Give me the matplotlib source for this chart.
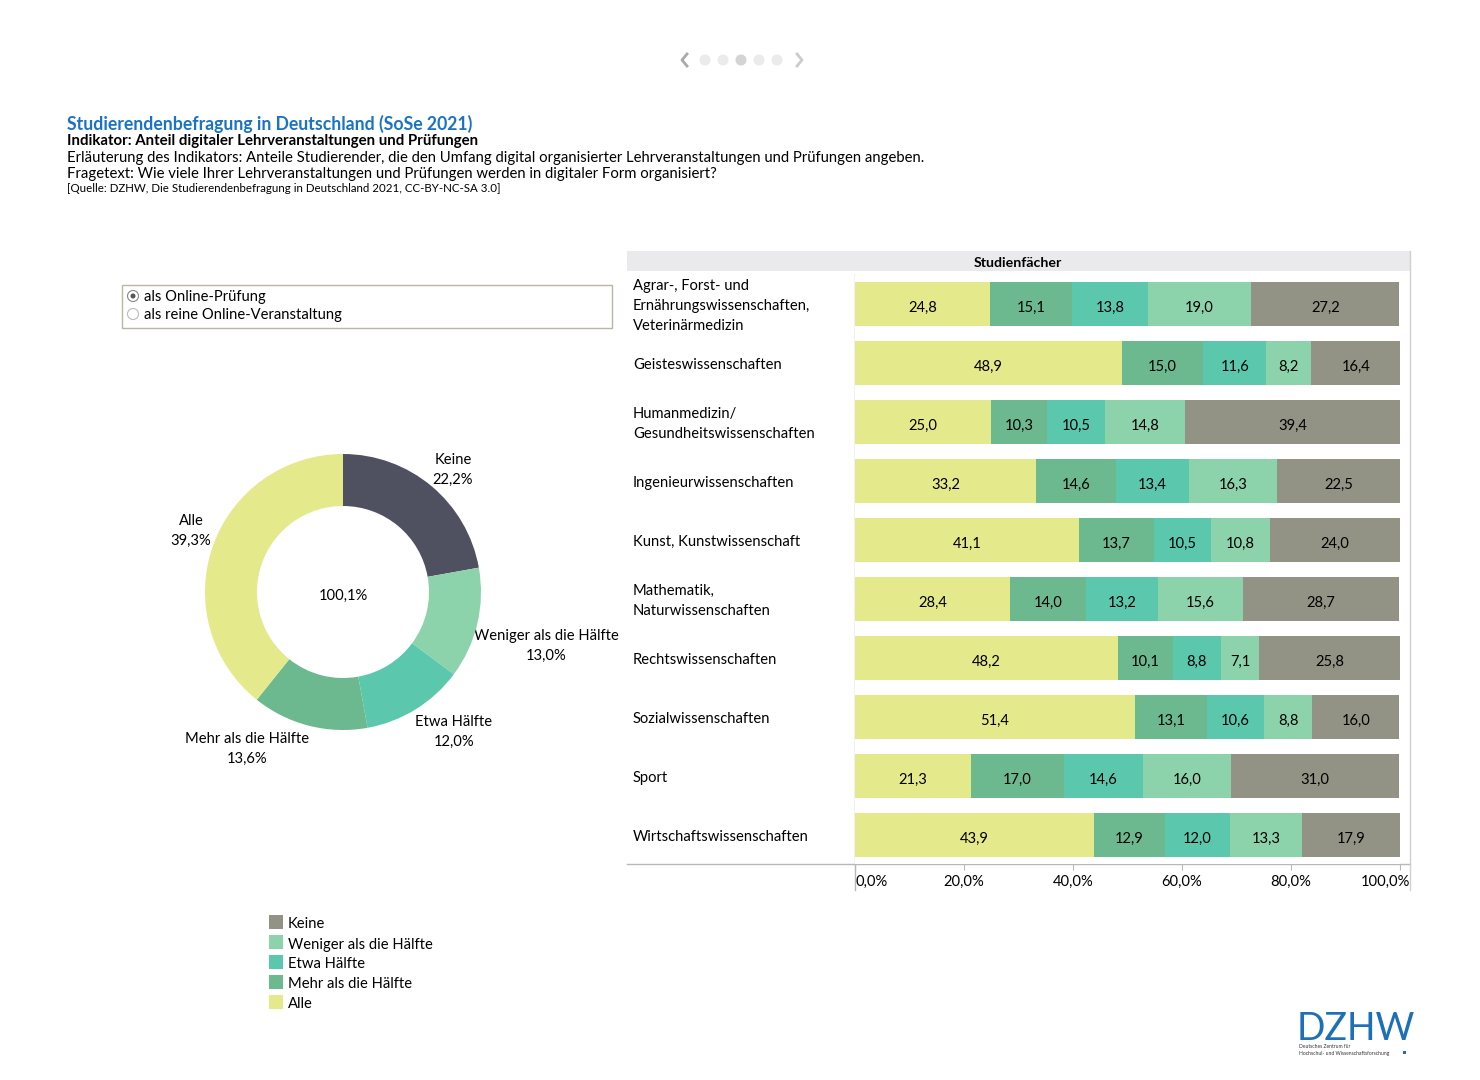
import numpy as np
import matplotlib
matplotlib.use("Agg")
import matplotlib.pyplot as plt
import matplotlib.transforms as mtransforms
from matplotlib.patches import Rectangle, Circle
from matplotlib.lines import Line2D

plt.rcParams['font.family'] = ['Lato', 'DejaVu Sans']

# ============================================================
# Data
# ============================================================
answers = ['Alle', 'Mehr als die Hälfte', 'Etwa Hälfte', 'Weniger als die Hälfte', 'Keine']
bar_colors = ['#e4e98b', '#6db98f', '#5bc8ae', '#8cd3ac', '#929285']

subjects = [
    'Agrar-, Forst- und\nErnährungswissenschaften,\nVeterinärmedizin',
    'Geisteswissenschaften',
    'Humanmedizin/\nGesundheitswissenschaften',
    'Ingenieurwissenschaften',
    'Kunst, Kunstwissenschaft',
    'Mathematik,\nNaturwissenschaften',
    'Rechtswissenschaften',
    'Sozialwissenschaften',
    'Sport',
    'Wirtschaftswissenschaften',
]
alle = [24.8, 48.9, 25.0, 33.2, 41.1, 28.4, 48.2, 51.4, 21.3, 43.9]
mehr = [15.1, 15.0, 10.3, 14.6, 13.7, 14.0, 10.1, 13.1, 17.0, 12.9]
etwa = [13.8, 11.6, 10.5, 13.4, 10.5, 13.2, 8.8, 10.6, 14.6, 12.0]
weniger = [19.0, 8.2, 14.8, 16.3, 10.8, 15.6, 7.1, 8.8, 16.0, 13.3]
keine = [27.2, 16.4, 39.4, 22.5, 24.0, 28.7, 25.8, 16.0, 31.0, 17.9]

# donut (overall), clockwise from top
donut_labels = ['Keine', 'Weniger als die Hälfte', 'Etwa Hälfte', 'Mehr als die Hälfte', 'Alle']
donut_values = [22.2, 13.0, 12.0, 13.6, 39.3]
donut_colors = ['#4f5060', '#8cd3ac', '#5bc8ae', '#6db98f', '#e4e98b']
donut_total = '100,1%'

xticks = [0, 20, 40, 60, 80, 100]


def de(v, suffix=''):
    return f"{v:.1f}".replace('.', ',') + suffix


# ============================================================
# Figure and helpers (pixel layout)
# ============================================================
W, H = 1480, 1080
FS = 10.6
fig = plt.figure(figsize=(W / 100, H / 100), dpi=100)


def box(l, t, r, b):
    return [l / W, 1 - b / H, (r - l) / W, (b - t) / H]


deco = fig.add_axes([0, 0, 1, 1])
deco.set_xlim(0, W)
deco.set_ylim(H, 0)
deco.axis('off')

# carousel indicator
deco.add_line(Line2D([687, 682, 687], [54, 60, 66], color='#aaaaaa', lw=2))
deco.add_line(Line2D([797, 802, 797], [54, 60, 66], color='#cccccc', lw=2))
for i, x in enumerate([705, 723, 741, 759, 777]):
    deco.add_patch(Circle((x, 60), 5.5, color='#d4d4d4' if i == 2 else '#ebebeb', lw=0))

# header text
deco.text(67, 124, 'Studierendenbefragung in Deutschland (SoSe 2021)', color='#1a73c4',
          fontsize=12.7, fontweight='bold', va='center')
deco.text(67, 141, 'Indikator: Anteil digitaler Lehrveranstaltungen und Prüfungen',
          fontsize=10.8, fontweight='bold', va='center')
deco.text(67, 158, 'Erläuterung des Indikators: Anteile Studierender, die den Umfang digital '
          'organisierter Lehrveranstaltungen und Prüfungen angeben.', fontsize=10.7, va='center')
deco.text(67, 174, 'Fragetext: Wie viele Ihrer Lehrveranstaltungen und Prüfungen werden in '
          'digitaler Form organisiert?', fontsize=10.7, va='center')
deco.text(67, 189, '[Quelle: DZHW, Die Studierendenbefragung in Deutschland 2021, CC-BY-NC-SA 3.0]',
          fontsize=8.3, va='center')

# radio box
deco.add_patch(Rectangle((122, 285), 490, 43, fill=False, ec='#b9b6a8', lw=1))
deco.add_patch(Circle((133, 296), 5.5, fill=False, ec='#888888', lw=0.8))
deco.add_patch(Circle((133, 296), 2.5, color='#555555', lw=0))
deco.add_patch(Circle((133, 314), 5.5, fill=False, ec='#bbbbbb', lw=0.8))
deco.text(144, 297, 'als Online-Prüfung', fontsize=FS, va='center')
deco.text(144, 315, 'als reine Online-Veranstaltung', fontsize=FS, va='center')

# table header band and lines
deco.add_patch(Rectangle((627, 251), 783, 20, color='#eaeaed', lw=0))
deco.text(1018, 263, 'Studienfächer', fontsize=10.2, fontweight='bold', ha='center', va='center')
deco.add_line(Line2D([627, 1410], [864, 864], color='#b8b8b8', lw=1))
deco.add_line(Line2D([855, 855], [275, 890], color='#b8b8b8', lw=1))
deco.add_line(Line2D([1410, 1410], [251, 890], color='#d0d0d0', lw=1))

# legend
for i, (lab, col) in enumerate(zip(answers[::-1], bar_colors[::-1])):
    y = 923 + 20 * i
    deco.add_patch(Rectangle((269, y - 8), 14, 14, color=col, lw=0))
    deco.text(288, y + 1.5, lab, fontsize=FS, va='center')

# DZHW logo
deco.text(1297, 1040, 'DZHW', color='#1d6fb8', fontsize=27, va='baseline')
deco.text(1299, 1047, 'Deutsches Zentrum für', fontsize=3.6, va='center', color='#333333')
deco.text(1299, 1053, 'Hochschul- und Wissenschaftsforschung', fontsize=3.6, va='center',
          color='#333333')
deco.add_patch(Rectangle((1403, 1051), 3, 3, color='#1d6fb8', lw=0))

# ============================================================
# Donut
# ============================================================
cx, cy, R = 343, 592, 138
ax_d = fig.add_axes(box(cx - R, cy - R, cx + R, cy + R))
ax_d.pie(donut_values, colors=donut_colors, startangle=90, counterclock=False,
         radius=1, wedgeprops=dict(width=52 / 138, linewidth=0))
ax_d.set_xlim(-1, 1)
ax_d.set_ylim(-1, 1)
ax_d.set_aspect('equal')
ax_d.axis('off')
deco.text(cx, 596, donut_total, fontsize=FS, ha='center', va='center')

label_pos = [(453, 470), (546, 646), (454, 732), (247, 749), (191, 531)]
for (lx, ly), lab, v in zip(label_pos, donut_labels, donut_values):
    deco.text(lx, ly, lab + '\n' + de(v, '%'), fontsize=FS, ha='center', va='center',
              linespacing=1.55)

# ============================================================
# Stacked bars
# ============================================================
ax = fig.add_axes(box(855, 275, 1400, 864))
series = [alle, mehr, etwa, weniger, keine]
ypos = np.arange(len(subjects))
left = np.zeros(len(subjects))
for vals, col in zip(series, bar_colors):
    vals = np.array(vals)
    ax.barh(ypos, vals, left=left, height=0.75, color=col, linewidth=0)
    for y, l, v in zip(ypos, left, vals):
        ax.text(l + v / 2, y + 0.07, de(v), ha='center', va='center', fontsize=FS)
    left += vals

ax.set_xlim(0, 100)
ax.set_ylim(len(subjects) - 0.51, -0.49)
for s in ax.spines.values():
    s.set_visible(False)
ax.set_yticks([])
ax.set_xticks(xticks)
ax.set_xticklabels([de(t, '%') for t in xticks], fontsize=FS)
ax.tick_params(axis='x', length=4, color='#b8b8b8', pad=4)
tl = ax.get_xticklabels()
tl[0].set_ha('left')
tl[-1].set_ha('right')
tl[-1].set_transform(tl[-1].get_transform() +
                     mtransforms.ScaledTranslation(10 / 100, 0, fig.dpi_scale_trans))

for y, name in zip(ypos, subjects):
    ax.annotate(name, xy=(0, y), xycoords=('axes fraction', 'data'),
                xytext=(-222 * 0.72, -1.2), textcoords='offset points',
                ha='left', va='center', fontsize=FS, linespacing=1.55)

fig.savefig('out.png', dpi=100)
